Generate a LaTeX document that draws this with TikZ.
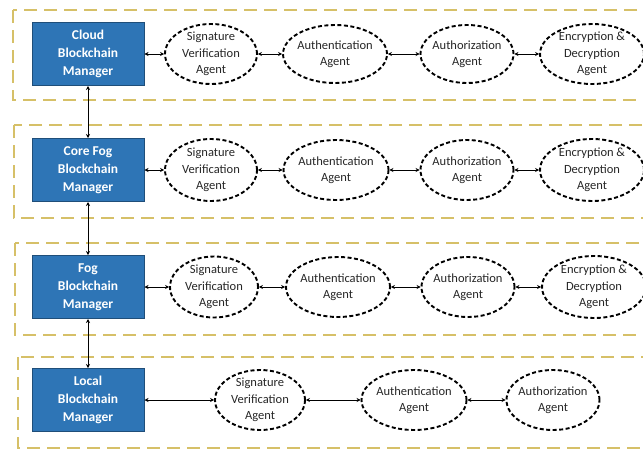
\documentclass[tikz,border=0pt]{standalone}
\usepackage{fontspec}
\setmainfont{Carlito}
\usetikzlibrary{shapes.geometric,arrows.meta}
\definecolor{boxblue}{HTML}{2E75B6}
\definecolor{boxedge}{HTML}{1F4E79}
\definecolor{layeredge}{HTML}{D6C068}
\begin{document}
\begin{tikzpicture}[x=1pt,y=-1pt,
  layer/.style={draw=layeredge, line width=1.6pt, dash pattern=on 13pt off 7pt},
  mgr/.style={draw=boxedge, fill=boxblue, line width=1pt, text=white,
    font=\fontsize{13.5}{18}\selectfont\bfseries, align=center, inner sep=0pt,
    minimum width=112pt, minimum height=63pt},
  agent/.style={ellipse, draw=black, line width=1.9pt, dash pattern=on 4pt off 2.5pt, inner sep=0pt},
  agenttext/.style={font=\fontsize{12.5}{16.5}\selectfont, text=black!85, align=center, inner sep=0pt},
  link/.style={{Stealth[length=4pt,width=4pt]}-{Stealth[length=4pt,width=4pt]}, line width=1pt}]
\useasboundingbox (0,0) rectangle (643,450);
\clip (0,0) rectangle (643,450);
% layer frames
\draw[layer] (13,10) rectangle (665,100);
\draw[layer] (14,125) rectangle (665,218);
\draw[layer] (15,243) rectangle (665,335);
\draw[layer] (18,357) rectangle (665,448);
% managers
\node[mgr] (m1) at (88,54) {Cloud\\Blockchain\\Manager};
\node[mgr] (m2) at (88,170) {Core Fog\\Blockchain\\Manager};
\node[mgr] (m3) at (88,287) {Fog\\Blockchain\\Manager};
\node[mgr] (m4) at (88,400) {Local\\Blockchain\\Manager};
% layer 1 agents
\node[agent, minimum width=92pt, minimum height=60pt] (s1) at (211,54) {};
\node[agent, minimum width=104pt, minimum height=58pt] (a1) at (335,54) {};
\node[agent, minimum width=93pt, minimum height=58pt] (z1) at (467,54) {};
\node[agent, minimum width=104pt, minimum height=60pt] (e1) at (592,54) {};
% layer 2 agents
\node[agent, minimum width=92pt, minimum height=62pt] (s2) at (211,170) {};
\node[agent, minimum width=105pt, minimum height=60pt] (a2) at (336,170) {};
\node[agent, minimum width=93pt, minimum height=60pt] (z2) at (467,170) {};
\node[agent, minimum width=104pt, minimum height=62pt] (e2) at (592,170) {};
% layer 3 agents
\node[agent, minimum width=88pt, minimum height=61pt] (s3) at (214,287) {};
\node[agent, minimum width=104pt, minimum height=60pt] (a3) at (338,287) {};
\node[agent, minimum width=93pt, minimum height=60pt] (z3) at (468,287) {};
\node[agent, minimum width=104pt, minimum height=62pt] (e3) at (594,287) {};
% layer 4 agents
\node[agent, minimum width=90pt, minimum height=60pt] (s4) at (260,400) {};
\node[agent, minimum width=105pt, minimum height=60pt] (a4) at (414,400) {};
\node[agent, minimum width=93pt, minimum height=60pt] (z4) at (553,400) {};
% agent texts
\foreach \r in {1,2,3,4}{
  \node[agenttext] (s\r t) at (s\r) {Signature\\Verification\\Agent};
  \node[agenttext] (a\r t) at (a\r) {Authentication\\Agent};
  \node[agenttext] (z\r t) at (z\r) {Authorization\\Agent};
}
\foreach \r in {1,2,3}{
  \node[agenttext] (e\r t) at (e\r) {Encryption \&\\Decryption\\Agent};
}
% vertical links
\draw[link] (m1.south) -- (m2.north);
\draw[link] (m2.south) -- (m3.north);
\draw[link] (m3.south) -- (m4.north);
% horizontal links
\foreach \r in {1,2,3}{
  \draw[link] (m\r.east) -- (s\r.west);
  \draw[link] (s\r.east) -- (a\r.west);
  \draw[link] (a\r.east) -- (z\r.west);
  \draw[link] (z\r.east) -- (e\r.west);
}
\draw[link] (m4.east) -- (s4.west);
\draw[link] (s4.east) -- (a4.west);
\draw[link] (a4.east) -- (z4.west);
\end{tikzpicture}
\end{document}
